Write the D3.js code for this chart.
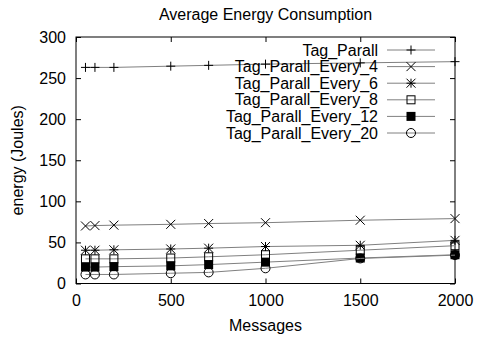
<!DOCTYPE html>
<html><head><meta charset="utf-8">
<script src="https://cdn.jsdelivr.net/npm/d3@7"></script>
<style>body{margin:0;background:#fff}svg{display:block}text{font-family:"Liberation Sans",Arial,sans-serif;font-size:16px;fill:#000}</style>
</head><body><svg id="c" width="477" height="338"></svg>
<script>
const messages = [50, 100, 200, 500, 700, 1000, 1500, 2000];
const seriesNames = ["Tag_Parall","Tag_Parall_Every_4","Tag_Parall_Every_6","Tag_Parall_Every_8","Tag_Parall_Every_12","Tag_Parall_Every_20"];
const tagParall   = [263, 263, 263, 264.5, 265.5, 267, 268.5, 270];
const every4      = [70, 70.5, 71, 72, 73, 74, 77, 79];
const every6      = [40.5, 40.5, 41, 42, 43, 45, 46.5, 52.5];
const every8      = [30, 30, 30, 31, 32.5, 35, 40.5, 46];
const every12     = [20, 20, 20.5, 21.5, 23, 26, 31, 35];
const every20     = [11, 11, 11, 12.5, 13.5, 18.5, 30.5, 34.5];
const xTicks = [0, 500, 1000, 1500, 2000];
const yTicks = [0, 50, 100, 150, 200, 250, 300];
const markers = ["plus","cross","star","square","filled","circle"];
const allSeries = [tagParall, every4, every6, every8, every12, every20];

const svg = d3.select("#c");
const L = 76, R = 455, T = 37, B = 283.5;
const x = d3.scaleLinear().domain([0, 2000]).range([L, R]);
const y = d3.scaleLinear().domain([0, 300]).range([B, T]);
const fmt = d3.format("d");

// axes with inward ticks on all sides
const gB = svg.append("g").attr("transform", `translate(0,${B})`)
  .call(d3.axisBottom(x).tickValues(xTicks).tickFormat(fmt).tickSizeInner(-5).tickSizeOuter(0).tickPadding(11));
const gT = svg.append("g").attr("transform", `translate(0,${T})`)
  .call(d3.axisTop(x).tickValues(xTicks).tickSizeInner(-5).tickSizeOuter(0).tickFormat(""));
const gL = svg.append("g").attr("transform", `translate(${L},0)`)
  .call(d3.axisLeft(y).tickValues(yTicks).tickFormat(fmt).tickSizeInner(-5).tickSizeOuter(0).tickPadding(10));
const gR = svg.append("g").attr("transform", `translate(${R},0)`)
  .call(d3.axisRight(y).tickValues(yTicks).tickSizeInner(-5).tickSizeOuter(0).tickFormat(""));
[gB,gT,gL,gR].forEach(g => {
  g.selectAll(".domain").remove();
  g.selectAll("line").attr("stroke","#000").attr("stroke-width",1);
  g.selectAll("text").attr("font-size",16).attr("font-family","Liberation Sans, Arial, sans-serif").attr("fill","#000");
});
gB.selectAll("text").attr("dy","0.71em");
svg.append("rect").attr("x",L).attr("y",T).attr("width",R-L).attr("height",B-T)
  .attr("fill","none").attr("stroke","#000").attr("stroke-width",1);

// title & labels
svg.append("text").attr("x",(L+R)/2).attr("y",20).attr("text-anchor","middle").text("Average Energy Consumption");
svg.append("text").attr("x",(L+R)/2).attr("y",331).attr("text-anchor","middle").text("Messages");
svg.append("text").attr("transform",`translate(23,${(T+B)/2}) rotate(-90)`).attr("text-anchor","middle").text("energy (Joules)");

function drawMarker(g, type, cx, cy) {
  const s = 4.5;
  if (type === "plus" || type === "star") {
    g.append("line").attr("x1",cx-s).attr("x2",cx+s).attr("y1",cy).attr("y2",cy).attr("stroke","#000");
    g.append("line").attr("x1",cx).attr("x2",cx).attr("y1",cy-s).attr("y2",cy+s).attr("stroke","#000");
  }
  if (type === "cross" || type === "star") {
    g.append("line").attr("x1",cx-s).attr("x2",cx+s).attr("y1",cy-s).attr("y2",cy+s).attr("stroke","#000");
    g.append("line").attr("x1",cx-s).attr("x2",cx+s).attr("y1",cy+s).attr("y2",cy-s).attr("stroke","#000");
  }
  if (type === "square") {
    g.append("rect").attr("x",cx-4).attr("y",cy-4).attr("width",8).attr("height",8).attr("fill","none").attr("stroke","#000");
  }
  if (type === "filled") {
    g.append("rect").attr("x",cx-4.5).attr("y",cy-4.5).attr("width",9).attr("height",9).attr("fill","#000");
  }
  if (type === "circle") {
    g.append("circle").attr("cx",cx).attr("cy",cy).attr("r",4.5).attr("fill","none").attr("stroke","#000");
  }
}

const line = d3.line().x(d => x(d[0])).y(d => y(d[1]));
allSeries.forEach((vals, i) => {
  const g = svg.append("g");
  const pts = messages.map((m, j) => [m, vals[j]]);
  g.append("path").attr("d", line(pts)).attr("fill","none").attr("stroke","#808080").attr("stroke-width",1);
  pts.forEach(p => drawMarker(g, markers[i], x(p[0]), y(p[1])));
});

// legend
const legX = 378, lx1 = 387, lx2 = 435, ly0 = 50, lstep = 16.6;
seriesNames.forEach((name, i) => {
  const yy = ly0 + i * lstep;
  const g = svg.append("g");
  g.append("text").attr("x",legX).attr("y",yy).attr("dy","0.35em").attr("text-anchor","end").text(name);
  g.append("line").attr("x1",lx1).attr("x2",lx2).attr("y1",yy).attr("y2",yy).attr("stroke","#808080");
  drawMarker(g, markers[i], (lx1+lx2)/2, yy);
});
</script></body></html>
